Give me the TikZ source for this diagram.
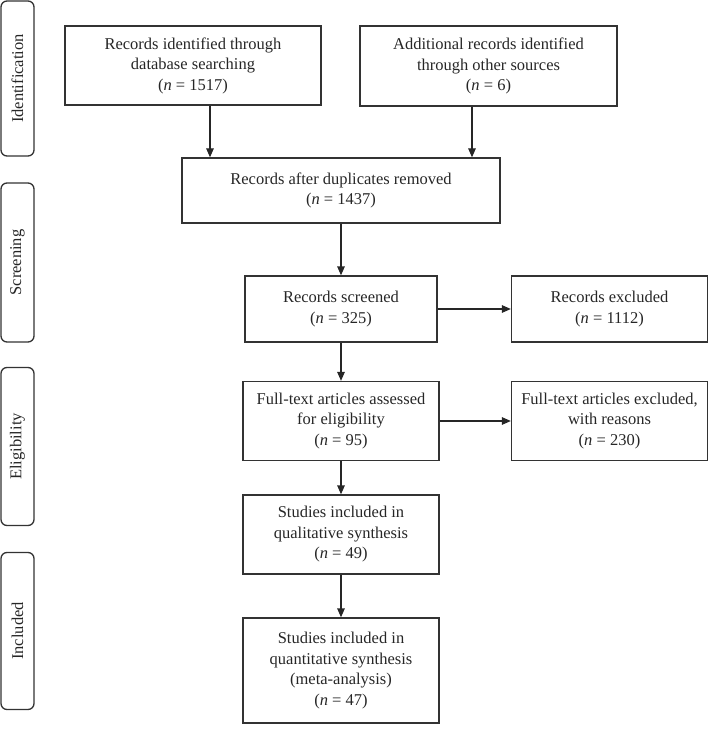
\documentclass[tikz,border=0pt]{standalone}
\usepackage{fontspec}
\setmainfont{Liberation Serif}
\usetikzlibrary{arrows.meta}
\begin{document}
\begin{tikzpicture}[x=1pt,y=-1pt,
  box/.style={draw=black!80, line width=1.3pt, align=center,
    font=\fontsize{16.5}{20.5}\selectfont, text=black!85, inner sep=0pt},
  phase/.style={draw=black!80, line width=1.3pt, rounded corners=6pt,
    minimum width=33pt, inner sep=0pt, text=black!85},
  phasetext/.style={rotate=90, font=\fontsize{16.5}{18}\selectfont, text=black!85},
  arr/.style={draw=black!85, line width=1.3pt, -{Triangle[length=9pt,width=7.5pt]}}]
\useasboundingbox (0,0) rectangle (709,738);

% phase labels
\node[phase, minimum height=155pt] (p1) at (17.5,78.5) {};
\node[phasetext] (t1) at (p1.center) {Identification};
\node[phase, minimum height=159pt] (p2) at (17.5,262.5) {};
\node[phasetext] (t2) at (p2.center) {Screening};
\node[phase, minimum height=158pt] (p3) at (17.5,446.5) {};
\node[phasetext] (t3) at (p3.center) {Eligibility};
\node[phase, minimum height=157pt] (p4) at (17.5,631) {};
\node[phasetext] (t4) at (p4.center) {Included};

% boxes
\node[box, minimum width=256pt, minimum height=79pt] (b1) at (193,65.5)
  {Records identified through\\database searching\\(\textit{n} = 1517)};
\node[box, minimum width=257pt, minimum height=80pt] (b2) at (488.5,66)
  {Additional records identified\\through other sources\\(\textit{n} = 6)};
\node[box, minimum width=318pt, minimum height=65pt] (b3) at (341,190.5)
  {Records after duplicates removed\\(\textit{n} = 1437)};
\node[box, minimum width=192pt, minimum height=66pt] (b4) at (341,309)
  {Records screened\\(\textit{n} = 325)};
\node[box, minimum width=196pt, minimum height=66pt] (b5) at (609.5,309)
  {Records excluded\\(\textit{n} = 1112)};
\node[box, minimum width=196pt, minimum height=79pt] (b6) at (341,421)
  {Full-text articles assessed\\for eligibility\\(\textit{n} = 95)};
\node[box, minimum width=196pt, minimum height=79pt] (b7) at (609.5,421)
  {Full-text articles excluded,\\with reasons\\(\textit{n} = 230)};
\node[box, minimum width=196pt, minimum height=79pt] (b8) at (341,534.5)
  {Studies included in\\qualitative synthesis\\(\textit{n} = 49)};
\node[box, minimum width=196pt, minimum height=105pt] (b9) at (341,670.5)
  {Studies included in\\quantitative synthesis\\(meta-analysis)\\(\textit{n} = 47)};

% connectors
\draw[arr] ([xshift=17pt]b1.south) -- ([xshift=17pt]b1.south |- b3.north);
\draw[arr] ([xshift=-16.5pt]b2.south) -- ([xshift=-16.5pt]b2.south |- b3.north);
\draw[arr] (b3) -- (b4);
\draw[arr] (b4) -- (b5);
\draw[arr] (b4) -- (b6);
\draw[arr] (b6) -- (b7);
\draw[arr] (b6) -- (b8);
\draw[arr] (b8) -- (b9);
\end{tikzpicture}
\end{document}
